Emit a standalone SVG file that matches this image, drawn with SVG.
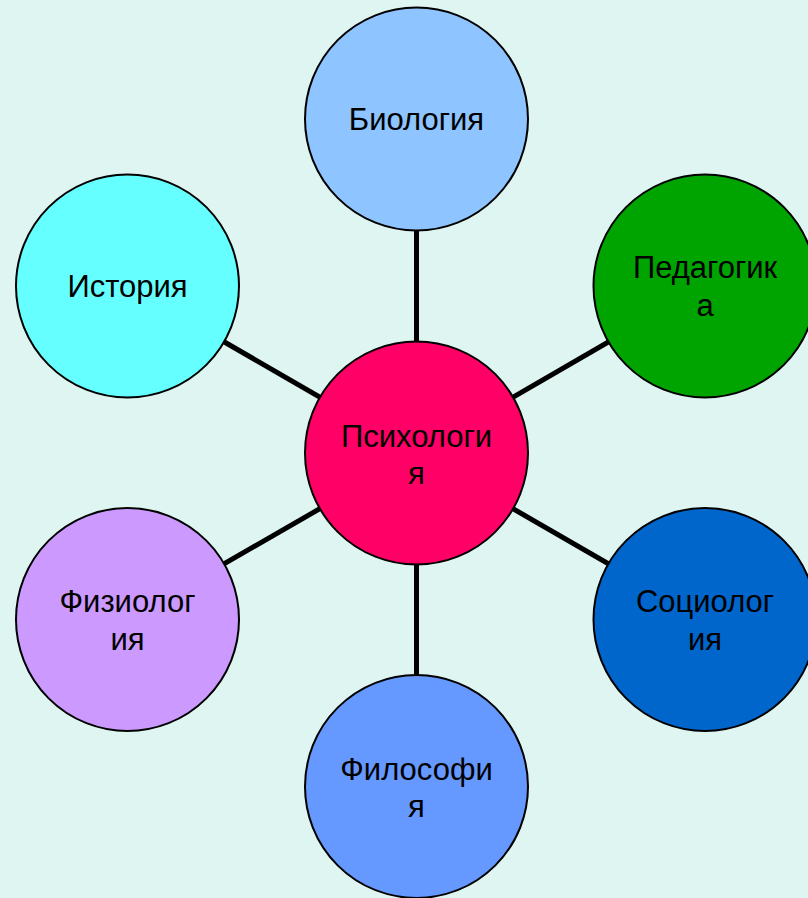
<svg xmlns="http://www.w3.org/2000/svg" width="808" height="898" viewBox="0 0 808 898">
<style>
.bg{fill:#DFF5F1}
.n{stroke:#000;stroke-width:2}
.t{font-family:"Liberation Sans",Arial,sans-serif;font-size:31px;fill:#000;text-anchor:middle}
.c{stroke:#000;stroke-width:5;fill:none}
</style>
<rect class="bg" x="0" y="0" width="808" height="898"/>
<g id="connectors">
<line class="c" x1="416.5" y1="453" x2="416.5" y2="119"/>
<line class="c" x1="416.5" y1="453" x2="127.5" y2="286"/>
<line class="c" x1="416.5" y1="453" x2="705" y2="286"/>
<line class="c" x1="416.5" y1="453" x2="127.5" y2="619.5"/>
<line class="c" x1="416.5" y1="453" x2="705" y2="619.5"/>
<line class="c" x1="416.5" y1="453" x2="416.5" y2="786.5"/>
</g>
<g id="biologiya">
<circle class="n" cx="416.5" cy="119" r="111.5" fill="#8EC4FF"/>
<text class="t" x="416.5" y="130">Биология</text>
</g>
<g id="istoriya">
<circle class="n" cx="127.5" cy="286" r="111.5" fill="#66FFFF"/>
<text class="t" x="127.5" y="297">История</text>
</g>
<g id="pedagogika">
<circle class="n" cx="705" cy="286" r="111.5" fill="#00A400"/>
<text class="t" x="705" y="278">Педагогик</text>
<text class="t" x="705" y="316">а</text>
</g>
<g id="psihologiya">
<circle class="n" cx="416.5" cy="453" r="111.5" fill="#FF0066"/>
<text class="t" x="416.5" y="447">Психологи</text>
<text class="t" x="416.5" y="484">я</text>
</g>
<g id="fiziologiya">
<circle class="n" cx="127.5" cy="619.5" r="111.5" fill="#CC99FF"/>
<text class="t" x="127.5" y="612">Физиолог</text>
<text class="t" x="127.5" y="650">ия</text>
</g>
<g id="sotsiologiya">
<circle class="n" cx="705" cy="619.5" r="111.5" fill="#0066CC"/>
<text class="t" x="705" y="612">Социолог</text>
<text class="t" x="705" y="650">ия</text>
</g>
<g id="filosofiya">
<circle class="n" cx="416.5" cy="786.5" r="111.5" fill="#6699FF"/>
<text class="t" x="416.5" y="780">Философи</text>
<text class="t" x="416.5" y="817">я</text>
</g>
</svg>
